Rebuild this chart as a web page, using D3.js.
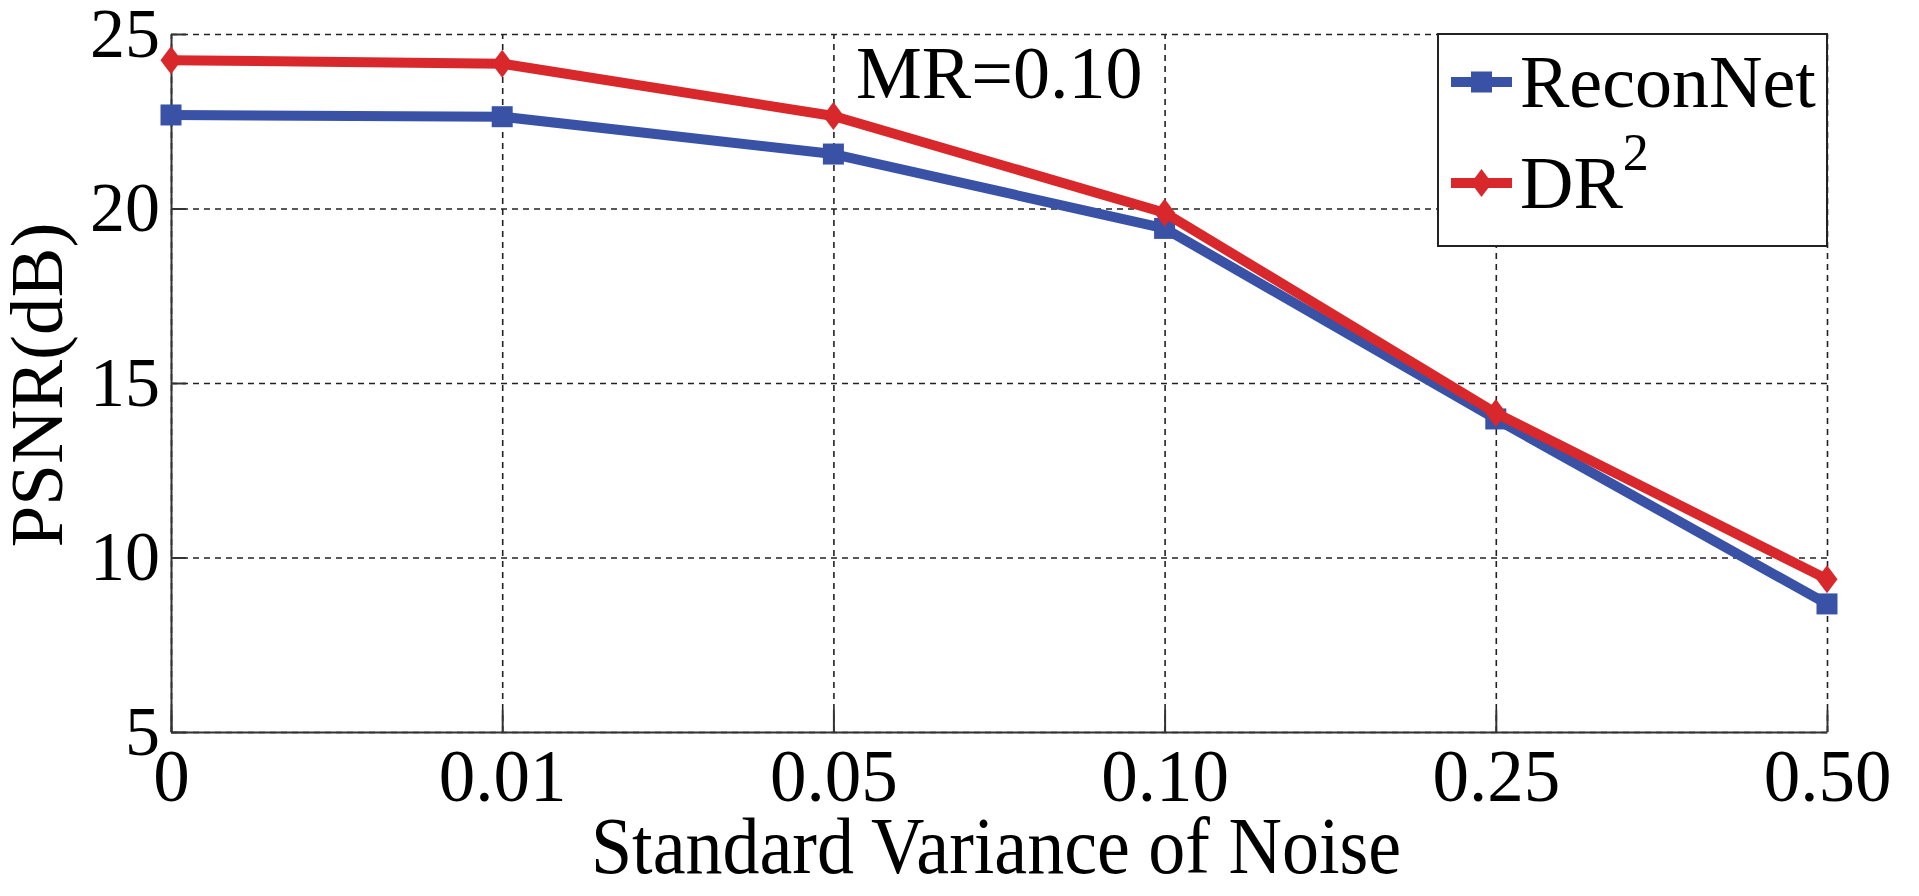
<!DOCTYPE html>
<html>
<head>
<meta charset="utf-8">
<script src="https://cdn.jsdelivr.net/npm/d3@7"></script>
<style>
    body { margin: 0; background: #fff; }
    svg text { font-family: "Liberation Serif", "Times New Roman", serif; fill: #000; }
</style>
</head>
<body>
<div id="chart"></div>
<script>
'use strict';

// Values (PSNR in dB for each noise level, MR = 0.10).
var noiseLevels = ['0', '0.01', '0.05', '0.10', '0.25', '0.50'];
var reconNetPsnr = [22.68, 22.63, 21.56, 19.43, 13.97, 8.67];
var dr2Psnr = [24.25, 24.15, 22.65, 19.88, 14.14, 9.38];
var psnrTicks = [5, 10, 15, 20, 25];

var series = [
    {name: 'ReconNet', sup: '', values: reconNetPsnr, color: '#3a52a6', marker: 'square'},
    {name: 'DR', sup: '2', values: dr2Psnr, color: '#d8282b', marker: 'diamond'}
];

var options = {
    width:  1919,
    height: 896,
    margin: {top: 34, left: 171},
    plotWidth:  1656,
    plotHeight: 698
};

var svg = d3.select('#chart').append('svg')
    .attr('width', options.width)
    .attr('height', options.height)
    .attr('font-family', '"Liberation Serif", "Times New Roman", serif');

var vis = svg.append('g')
    .attr('transform', 'translate(' + options.margin.left + ',' + options.margin.top + ')');

var x = d3.scalePoint()
    .domain(noiseLevels)
    .range([0, options.plotWidth]);

var y = d3.scaleLinear()
    .domain([5, 25])
    .range([options.plotHeight, 0]);

// Dashed grid.
vis.append('g')
    .attr('class', 'grid')
    .call(d3.axisLeft(y).tickValues(psnrTicks).tickSize(-options.plotWidth).tickFormat(''));

vis.append('g')
    .attr('class', 'grid')
    .attr('transform', 'translate(0,' + options.plotHeight + ')')
    .call(d3.axisBottom(x).tickSize(-options.plotHeight).tickFormat(''));

vis.selectAll('.grid path').remove();
vis.selectAll('.grid line')
    .attr('stroke', '#222')
    .attr('stroke-width', 1.6)
    .attr('stroke-dasharray', '6,5');

// Axes with inward ticks.
var yAxis = vis.append('g')
    .attr('class', 'axis')
    .call(d3.axisLeft(y).tickValues(psnrTicks).tickSize(-15).tickSizeOuter(0).tickPadding(11));

var xAxis = vis.append('g')
    .attr('class', 'axis')
    .attr('transform', 'translate(0,' + options.plotHeight + ')')
    .call(d3.axisBottom(x).tickSize(-22).tickSizeOuter(0).tickPadding(17));

// d3 puts sans-serif on the axis groups, drop it so the serif face is used.
vis.selectAll('.axis, .grid').attr('font-family', null).attr('font-size', null);
vis.selectAll('.axis path, .axis line').attr('stroke', '#333').attr('stroke-width', 2);
yAxis.selectAll('text').style('font-size', '70px');
xAxis.selectAll('text').style('font-size', '73px');

// Markers.
function drawMarker(sel, type, color) {
    if (type === 'square') {
        sel.append('rect')
            .attr('x', -10.5).attr('y', -10.5)
            .attr('width', 21).attr('height', 21)
            .attr('fill', color);
    } else {
        sel.append('path')
            .attr('d', 'M0,-14L10.5,0L0,14L-10.5,0Z')
            .attr('fill', color);
    }
}

var line = d3.line()
    .x(function (d, i) { return x(noiseLevels[i]); })
    .y(function (d) { return y(d); });

series.forEach(function (s) {
    var g = vis.append('g').attr('class', 'series');

    g.append('path')
        .datum(s.values)
        .attr('d', line)
        .attr('fill', 'none')
        .attr('stroke', s.color)
        .attr('stroke-width', 10)
        .attr('stroke-linejoin', 'round');

    g.selectAll('.marker')
        .data(s.values)
        .enter().append('g')
        .attr('class', 'marker')
        .attr('transform', function (d, i) {
            return 'translate(' + x(noiseLevels[i]) + ',' + y(d) + ')';
        })
        .each(function () {
            drawMarker(d3.select(this), s.marker, s.color);
        });
});

// Annotation.
vis.append('text')
    .attr('x', 685)
    .attr('y', 64)
    .style('font-size', '74px')
    .text('MR=0.10');

// Legend.
var legend = vis.append('g')
    .attr('transform', 'translate(' + (options.plotWidth - 389) + ',0)');

legend.append('rect')
    .attr('width', 389)
    .attr('height', 212)
    .attr('fill', '#fff')
    .attr('stroke', '#222')
    .attr('stroke-width', 2);

var entry = legend.selectAll('.entry')
    .data(series)
    .enter().append('g')
    .attr('class', 'entry')
    .attr('transform', function (d, i) {
        return 'translate(0,' + (48 + i * 101) + ')';
    });

entry.append('line')
    .attr('x1', 13).attr('x2', 74)
    .attr('stroke', function (d) { return d.color; })
    .attr('stroke-width', 10);

entry.append('g')
    .attr('transform', 'translate(43.5,0)')
    .each(function (d) {
        drawMarker(d3.select(this), d.marker, d.color);
    });

var label = entry.append('text')
    .attr('x', 82)
    .attr('y', 25)
    .style('font-size', '74px')
    .text(function (d) { return d.name; });

label.filter(function (d) { return d.sup; })
    .append('tspan')
    .attr('dy', -38)
    .style('font-size', '52px')
    .text(function (d) { return d.sup; });

// Axis titles.
svg.append('text')
    .attr('text-anchor', 'middle')
    .attr('transform', 'translate(996,873) scale(1,1.08)')
    .style('font-size', '74px')
    .text('Standard Variance of Noise');

svg.append('text')
    .attr('text-anchor', 'middle')
    .attr('transform', 'translate(62,385) rotate(-90)')
    .style('font-size', '75px')
    .text('PSNR(dB)');
</script>
</body>
</html>
